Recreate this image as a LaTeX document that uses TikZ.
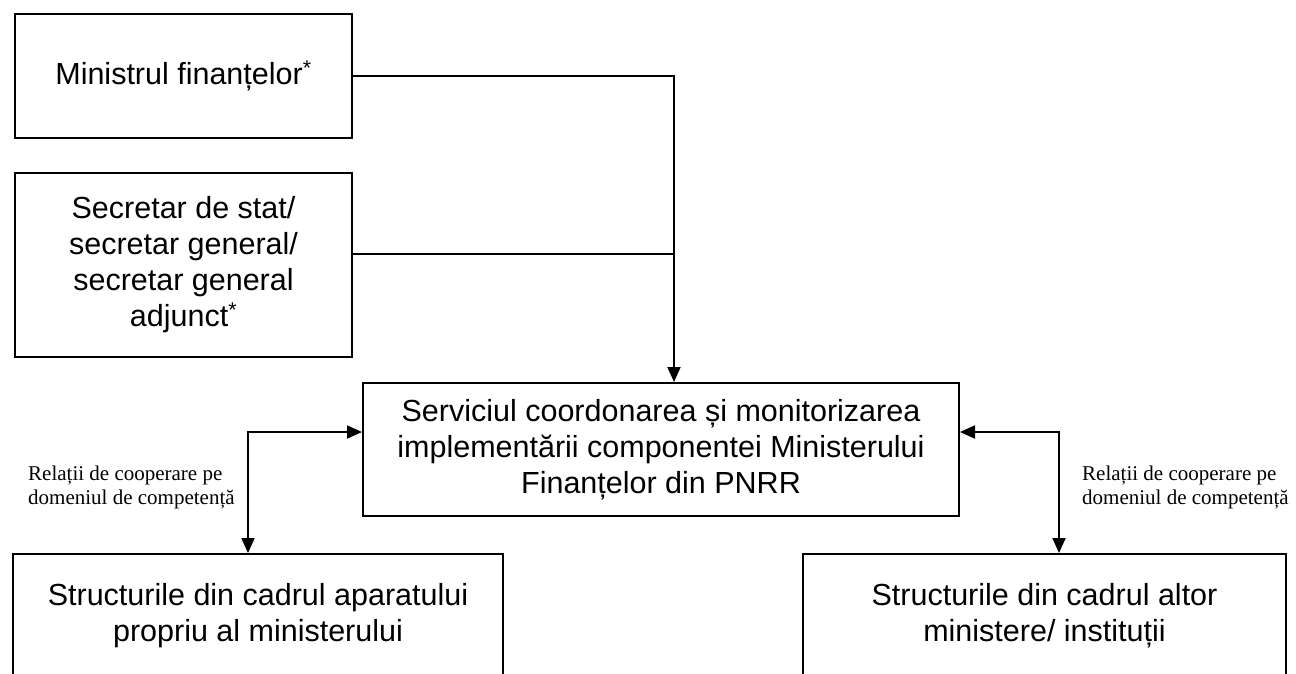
\documentclass[tikz,border=0pt]{standalone}
\usepackage{fontspec}
\setmainfont{Liberation Sans}
\newfontfamily\timesfont{Liberation Serif}
\usetikzlibrary{arrows.meta}
\tikzstyle{arrow} = [line width=2pt,-{Triangle[length=15pt,width=13pt]}]
\tikzstyle{dblarrow} = [line width=2pt,{Triangle[length=15pt,width=13pt]}-{Triangle[length=15pt,width=13pt]}]
\tikzset{box/.style={
    draw, line width=2pt, anchor=north west, inner sep=0pt, align=center,
    font=\fontsize{30.5}{36}\selectfont,
  },
  rel/.style={anchor=north west, inner sep=0pt, align=left,
    font=\timesfont\fontsize{21}{24}\selectfont},
}

\begin{document}
\begin{tikzpicture}[x=1pt,y=-1pt]
        \useasboundingbox (0,0) rectangle (1296,673);
        \clip (0,0) rectangle (1296,673);

        \node[box, minimum width=337pt, minimum height=124pt] (ministru) at (14,13) {Ministrul finanțelor\textsuperscript{*}};
        \node[box, minimum width=337pt, minimum height=184pt] (secretar) at (14,172) {Secretar de stat/\\secretar general/\\secretar general\\adjunct\textsuperscript{*}};
        \node[box, minimum width=596pt, minimum height=133pt] (serviciu) at (362,382) {Serviciul coordonarea și monitorizarea\\implementării componentei Ministerului\\Finanțelor din PNRR};

        % bottom boxes run past the lower edge of the page
        \node[box, minimum width=490pt, minimum height=124pt] (aparat) at (12,553) {Structurile din cadrul aparatului\\propriu al ministerului};
        \node[box, minimum width=483pt, minimum height=124pt] (altele) at (802,553) {Structurile din cadrul altor\\ministere/ instituții};

        \draw[arrow] (ministru.east) -| ([xshift=13pt]serviciu.north);
        \draw[line width=2pt] ([yshift=11pt]secretar.east) -- +(322pt,0);

        \draw[dblarrow] ([yshift=17.5pt]serviciu.west) -| ([xshift=-10pt]aparat.north);
        \draw[dblarrow] ([yshift=17.5pt]serviciu.east) -| ([xshift=14.5pt]altele.north);

        \node[rel] (relstanga) at (28,466) {Relații de cooperare pe\\domeniul de competență};
        \node[rel] (reldreapta) at (1082,466) {Relații de cooperare pe\\domeniul de competență};
    \end{tikzpicture}
\end{document}
